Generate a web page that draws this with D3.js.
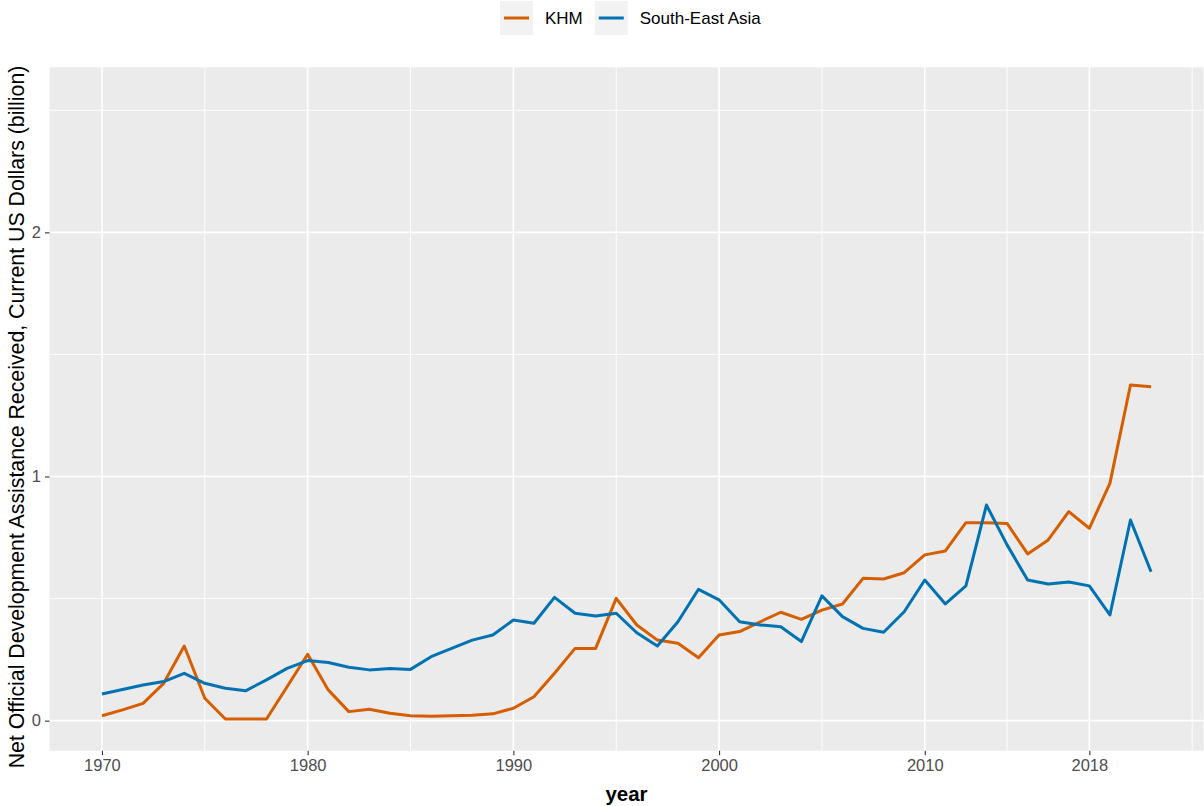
<!DOCTYPE html>
<html>
<head>
<meta charset="utf-8">
<script src="https://cdn.jsdelivr.net/npm/d3@7/dist/d3.min.js"></script>
<style>
  html, body { margin: 0; padding: 0; background: #ffffff; }
  svg { display: block; font-family: "Liberation Sans", Arial, sans-serif; }
</style>
</head>
<body>
<svg id="chart" width="1204" height="806"></svg>
<script>
// ---- Data ----
const years = d3.range(1970, 2022);
const khm = [0.020, 0.044, 0.071, 0.153, 0.306, 0.092, 0.007, 0.007, 0.007, 0.139,
             0.272, 0.126, 0.037, 0.047, 0.030, 0.020, 0.018, 0.020, 0.022, 0.028,
             0.051, 0.098, 0.194, 0.296, 0.296, 0.501, 0.392, 0.330, 0.317, 0.258,
             0.351, 0.365, 0.405, 0.444, 0.415, 0.453, 0.478, 0.583, 0.580, 0.606,
             0.679, 0.695, 0.811, 0.811, 0.808, 0.683, 0.740, 0.856, 0.788, 0.972,
             1.375, 1.368];
const sea = [0.109, 0.128, 0.146, 0.160, 0.194, 0.153, 0.133, 0.123, 0.167, 0.214,
             0.246, 0.238, 0.219, 0.208, 0.214, 0.210, 0.262, 0.296, 0.330, 0.351,
             0.412, 0.399, 0.505, 0.440, 0.429, 0.440, 0.360, 0.306, 0.405, 0.538,
             0.495, 0.405, 0.392, 0.385, 0.324, 0.511, 0.426, 0.378, 0.362, 0.446,
             0.576, 0.478, 0.552, 0.883, 0.720, 0.576, 0.560, 0.568, 0.552, 0.433,
             0.822, 0.610];
const seriesNames = ["KHM", "South-East Asia"];
const seriesColors = ["#D55E00", "#0072B2"];
const xMajorTicks = [1970, 1980, 1990, 2000, 2010, 2018];
const xMinorTicks = [1975, 1985, 1995, 2005, 2014, 2023];
const yMajorTicks = [0, 1, 2];
const yMinorTicks = [0.5, 1.5, 2.5];
const xTitle = "year";
const yTitle = "Net Official Development Assistance Received, Current US Dollars (billion)";

// ---- Layout ----
const svg = d3.select("#chart");
const panel = { left: 49.5, right: 1203.5, top: 67.3, bottom: 750.7 };

const x = d3.scaleLinear().domain([1967.45, 2023.55]).range([panel.left, panel.right]);
const y = d3.scaleLinear().domain([-0.123, 2.676]).range([panel.bottom, panel.top]);

// panel background
svg.append("rect")
  .attr("x", panel.left).attr("y", panel.top)
  .attr("width", panel.right - panel.left).attr("height", panel.bottom - panel.top)
  .attr("fill", "#EBEBEB");

const grid = svg.append("g");
// minor grid
grid.selectAll(".xminor").data(xMinorTicks).join("line")
  .attr("x1", d => x(d)).attr("x2", d => x(d))
  .attr("y1", panel.top).attr("y2", panel.bottom)
  .attr("stroke", "#ffffff").attr("stroke-width", 0.9);
grid.selectAll(".yminor").data(yMinorTicks).join("line")
  .attr("x1", panel.left).attr("x2", panel.right)
  .attr("y1", d => y(d)).attr("y2", d => y(d))
  .attr("stroke", "#ffffff").attr("stroke-width", 0.9);
// major grid
grid.selectAll(".xmajor").data(xMajorTicks).join("line")
  .attr("x1", d => x(d)).attr("x2", d => x(d))
  .attr("y1", panel.top).attr("y2", panel.bottom)
  .attr("stroke", "#ffffff").attr("stroke-width", 1.6);
grid.selectAll(".ymajor").data(yMajorTicks).join("line")
  .attr("x1", panel.left).attr("x2", panel.right)
  .attr("y1", d => y(d)).attr("y2", d => y(d))
  .attr("stroke", "#ffffff").attr("stroke-width", 1.6);

// axes
const xAxis = svg.append("g")
  .attr("transform", `translate(0,${panel.bottom})`)
  .call(d3.axisBottom(x).tickValues(xMajorTicks).tickFormat(d3.format("d")).tickSize(4.5).tickPadding(4));
xAxis.select(".domain").remove();
xAxis.selectAll(".tick line").attr("stroke", "#333333").attr("stroke-width", 1.1);
xAxis.selectAll(".tick text").attr("fill", "#4D4D4D").attr("font-size", "16.5px")
  .attr("font-family", "Liberation Sans, Arial, sans-serif");

const yAxis = svg.append("g")
  .attr("transform", `translate(${panel.left},0)`)
  .call(d3.axisLeft(y).tickValues(yMajorTicks).tickFormat(d3.format("d")).tickSize(4.5).tickPadding(4));
yAxis.select(".domain").remove();
yAxis.selectAll(".tick line").attr("stroke", "#333333").attr("stroke-width", 1.1);
yAxis.selectAll(".tick text").attr("fill", "#4D4D4D").attr("font-size", "16.5px")
  .attr("font-family", "Liberation Sans, Arial, sans-serif");

// lines
const seriesData = [khm, sea];
const line = d3.line().x((d, i) => x(years[i])).y(d => y(d));
svg.append("g").selectAll("path").data(seriesData).join("path")
  .attr("d", d => line(d))
  .attr("fill", "none")
  .attr("stroke", (d, i) => seriesColors[i])
  .attr("stroke-width", 3)
  .attr("stroke-linejoin", "round")
  .attr("stroke-linecap", "butt");

// axis titles
svg.append("text")
  .attr("x", (panel.left + panel.right) / 2).attr("y", 801)
  .attr("text-anchor", "middle")
  .attr("font-size", "20.5px").attr("font-weight", "bold").attr("fill", "#000")
  .text(xTitle);

svg.append("text")
  .attr("transform", `translate(24,417) rotate(-90)`)
  .attr("text-anchor", "middle")
  .attr("font-size", "21.3px").attr("fill", "#000")
  .text(yTitle);

// legend
const legend = svg.append("g");
let lx = 500;
seriesNames.forEach((name, i) => {
  legend.append("rect")
    .attr("x", lx).attr("y", 1).attr("width", 33).attr("height", 34)
    .attr("fill", "#F2F2F2");
  legend.append("line")
    .attr("x1", lx + 4).attr("x2", lx + 29).attr("y1", 18).attr("y2", 18)
    .attr("stroke", seriesColors[i]).attr("stroke-width", 3);
  const t = legend.append("text")
    .attr("x", lx + 45).attr("y", 24)
    .attr("font-size", "17px").attr("fill", "#000")
    .text(name);
  lx = lx + 45 + t.node().getComputedTextLength() + 12;
});
</script>
</body>
</html>
